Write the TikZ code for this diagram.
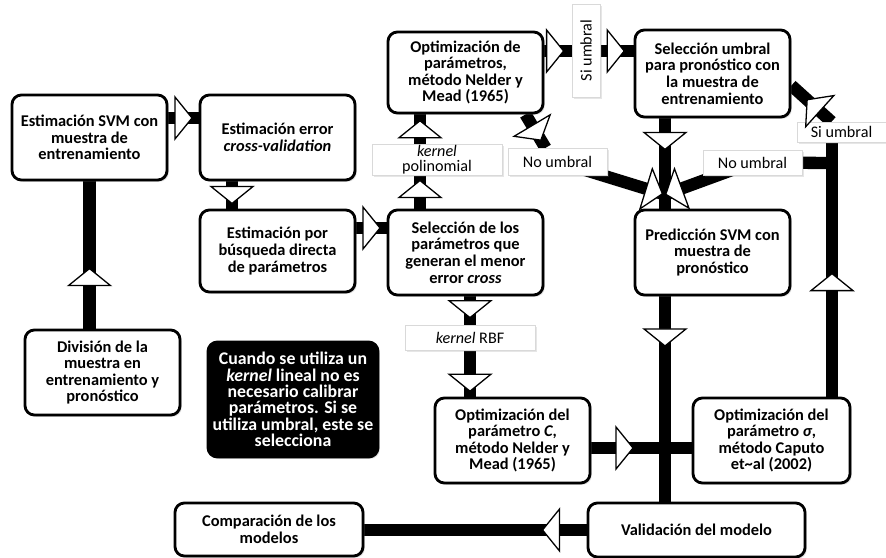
\documentclass[tikz,border=0pt]{standalone}
\usepackage{fontspec}
\setmainfont{Carlito}
\usetikzlibrary{backgrounds,shadows,calc}

\tikzset{
  box/.style={draw, line width=2.4pt, rounded corners=8pt, fill=white, align=center,
    font=\fontsize{14}{14.2}\selectfont\bfseries, inner sep=2pt,
    minimum width=4.65cm, minimum height=2.55cm,
    drop shadow={shadow xshift=1.5pt, shadow yshift=-1.5pt, opacity=.3}},
  note/.style={box, fill=black, text=white, font=\fontsize{15.2}{14}\selectfont\bfseries},
  tag/.style={draw=black!15, line width=.4pt, fill=white, align=center, inner sep=1pt,
    font=\fontsize{13.8}{13}\selectfont, minimum width=2.97cm, minimum height=.8cm,
    drop shadow={shadow xshift=1.5pt, shadow yshift=-1.5pt, opacity=.2}},
  bar/.style={line width=10.5pt},
  onbar/.style={pos=#1, sloped, allow upside down},
  tri/.pic={\draw[fill=white, line width=1.1pt] (-8.5,-21) -- (8.5,0) -- (-8.5,21) -- cycle;}
}

\begin{document}
\begin{tikzpicture}[x=0.03cm, y=-0.03cm]
\useasboundingbox (0,0) rectangle (886,558);

% boxes
\node[box] (svm) at (89.5,137.5) {Estimación SVM con\\muestra de\\entrenamiento};
\node[box] (cv) at (277.5,137.5) {Estimación error\\\textit{cross-validation}};
\node[box, minimum height=2.46cm] (busq) at (277.5,251) {Estimación por\\búsqueda directa\\de parámetros};
\node[box, minimum height=2.43cm] (opt) at (465.5,72.5) {Optimización de\\parámetros,\\método Nelder y\\Mead (1965)};
\node[box, minimum height=2.61cm] (selU) at (712.5,73.5) {Selección umbral\\para pronóstico con\\la muestra de\\entrenamiento};
\node[box] (sel) at (465.5,252.5) {Selección de los\\parámetros que\\generan el menor\\error \textit{cross}};
\node[box] (pred) at (712.5,252.5) {Predicción SVM con\\muestra de\\pronóstico};
\node[box] (div) at (102.5,372.5) {División de la\\muestra en\\entrenamiento y\\pronóstico};
\node[note, minimum width=5.1cm, minimum height=3.45cm] (obs) at (293,399.5) {Cuando se utiliza un\\\textit{kernel} lineal no es\\necesario calibrar\\parámetros. Si se\\utiliza umbral, este se\\selecciona};
\node[box] (optC) at (512.5,440.5) {Optimización del\\parámetro \textit{C},\\método Nelder y\\Mead (1965)};
\node[box, minimum width=4.71cm] (optS) at (771.5,440.5) {Optimización del\\parámetro \textit{σ},\\método Caputo\\et\textasciitilde al (2002)};
\node[box, minimum width=6.51cm, minimum height=1.62cm] (val) at (696.5,530) {Validación del modelo};
\node[box, minimum width=5.64cm, minimum height=1.59cm] (comp) at (269,529.5) {Comparación de los\\modelos};

% labels on the bars
\node[tag, rotate=90, minimum width=2.79cm, minimum height=.84cm] (siU) at (586,50.5) {Si umbral};
\node[tag, minimum width=3.9cm, minimum height=.9cm] (kpol) at (437,160) {\textit{kernel}\\polinomial};
\node[tag] (noUl) at (557.5,161.5) {No umbral};
\node[tag, minimum height=.75cm] (noUr) at (752.5,162.5) {No umbral};
\node[tag, minimum width=2.67cm, minimum height=.6cm] (siUr) at (841.5,132) {Si umbral};
\node[tag, minimum width=3.9cm, minimum height=.75cm] (krbf) at (470,337.5) {\textit{kernel} RBF};

% where the bars run
\coordinate (xe) at (232,0);
\coordinate (xp) at (420,0);
\coordinate (xk) at (470,0);
\coordinate (xc) at (665,0);
\coordinate (xr) at (832,0);
\coordinate (y1) at (0,118);
\coordinate (y2) at (0,228);
\coordinate (ys) at (0,51);
\coordinate (yr) at (0,163);
\coordinate (yo) at (0,448);
\coordinate (yv) at (0,530);
\coordinate (meet) at ($(pred.north -| xc)+(0,-14)$);
\coordinate (dA) at ($(opt.south)+(60,0)$);
\coordinate (dB) at ($(noUl.north)+(-12,0)$);
\coordinate (dC) at ($(siUr.north)+(-10,0)$);
\coordinate (dD) at ($(selU.east)+(0,12)$);

\begin{scope}[on background layer]
\draw[bar] (svm.south) -- (div.north -| svm.south);
\draw[bar] (svm.east |- y1) -- (cv.west |- y1);
\draw[bar] (cv.south -| xe) -- (busq.north -| xe);
\draw[bar] (busq.east |- y2) -- (sel.west |- y2);
\draw[bar] (sel.north -| xp) -- (opt.south -| xp);
\draw[bar] (opt.east |- ys) -- (selU.west |- ys);
\draw[bar] (dA) -- (dB);
\draw[bar] (noUl.center) -- (meet) -- (noUr.center) -- (xr |- yr);
\draw[bar] (selU.south -| xc) -- (val.north -| xc);
\draw[bar] (optS.north -| xr) -- (siUr.south -| xr);
\draw[bar] (dC) -- (dD);
\draw[bar] (sel.south -| xk) -- (optC.north -| xk);
\draw[bar] (optC.east |- yo) -- (optS.west |- yo);
\draw[bar] (val.west |- yv) -- (comp.east |- yv);
\end{scope}

% arrow heads
\path (div.north -| svm.south) -- (svm.south) pic[onbar=.35]{tri};
\path (svm.east |- y1) -- (cv.west |- y1) pic[onbar=.5]{tri};
\path (cv.south -| xe) -- (busq.north -| xe) pic[onbar=.5]{tri};
\path (busq.east |- y2) -- (sel.west |- y2) pic[onbar=.5]{tri};
\path (sel.north -| xp) -- (kpol.south -| xp) pic[onbar=.6]{tri};
\path (kpol.north -| xp) -- (opt.south -| xp) pic[onbar=.5]{tri};
\path (opt.east |- ys) -- (selU.west |- ys) pic[onbar=.12]{tri} pic[onbar=.8]{tri};
\path (dA) -- (dB) pic[onbar=.55]{tri};
\path (noUl.center) -- (meet) pic[onbar=.9]{tri};
\path (noUr.center) -- (meet) pic[onbar=.9]{tri};
\path (selU.south -| xc) -- (pred.north -| xc) pic[onbar=.25]{tri};
\path (pred.south -| xc) -- (val.north -| xc) pic[onbar=.2]{tri};
\path (optS.north -| xr) -- (siUr.south -| xr) pic[onbar=.45]{tri};
\path (dC) -- (dD) pic[onbar=.45]{tri};
\path (sel.south -| xk) -- (krbf.north -| xk) pic[onbar=.45]{tri};
\path (krbf.south -| xk) -- (optC.north -| xk) pic[onbar=.7]{tri};
\path (optC.east |- yo) -- (xc |- yo) pic[onbar=.45]{tri};
\path (val.west |- yv) -- (comp.east |- yv) pic[onbar=.16]{tri};
\end{tikzpicture}
\end{document}
